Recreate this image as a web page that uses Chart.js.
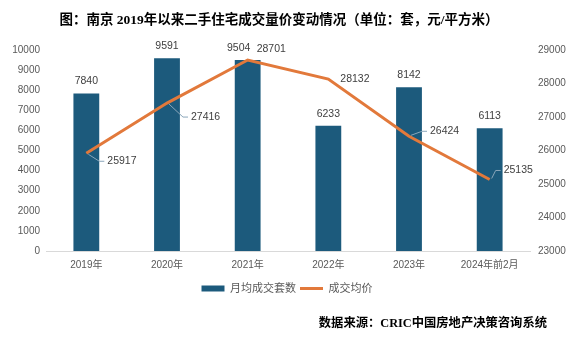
<!DOCTYPE html>
<html>
<head>
<meta charset="utf-8">
<script src="https://cdn.jsdelivr.net/npm/chart.js@4"></script>
<style>
  html, body { margin: 0; padding: 0; background: #fff; }
  #wrap { position: relative; width: 574px; height: 337px; overflow: hidden; }
  #chart { position: absolute; left: 0; top: 0; }
  .title, .source {
    position: absolute;
    font-family: "Liberation Serif", "Noto Sans CJK SC", serif;
    font-weight: 700;
    color: #000;
    white-space: nowrap;
    line-height: 16px;
  }
  .title { left: 0; width: 558px; top: 12px; text-align: center; font-size: 13.5px; }
  .source { right: 27px; top: 315px; font-size: 12.3px; }
</style>
</head>
<body>
<div id="wrap">
  <canvas id="chart" width="574" height="337"></canvas>
  <div class="title">图：南京 2019年以来二手住宅成交量价变动情况（单位：套，元/平方米）</div>
  <div class="source">数据来源：CRIC中国房地产决策咨询系统</div>
</div>
<script>
const years = ['2019年', '2020年', '2021年', '2022年', '2023年', '2024年前2月']
const monthlyDeals = [7840, 9591, 9504, 6233, 8142, 6113]
const avgPrice = [25917, 27416, 28701, 28132, 26424, 25135]
const countTicks = [0, 1000, 2000, 3000, 4000, 5000, 6000, 7000, 8000, 9000, 10000]
const priceTicks = [23000, 24000, 25000, 26000, 27000, 28000, 29000]

const BAR_COLOR = '#1c5a7c'
const LINE_COLOR = '#e2793b'
const TEXT_COLOR = '#595959'
const FONT = '"Liberation Sans", "Noto Sans CJK SC", sans-serif'

// horizontal nudge for bar labels (2021 moves left to clear the price label)
const barLabelDx = [0, 0, -9, 0, 0, 0]

// where each price label sits relative to its point: [dx to left edge, dy to middle, leader]
const priceLabelPos = [
  [21, 8, true],
  [24, 14, true],
  [9, -11, false],
  [12, 0, false],
  [21, -5, true],
  [14, -9, true],
]

const valueLabels = {
  id: 'valueLabels',
  afterDatasetsDraw(chart) {
    const ctx = chart.ctx
    ctx.save()
    ctx.font = '10.5px ' + FONT
    ctx.fillStyle = '#404040'

    const barMeta = chart.getDatasetMeta(0)
    ctx.textAlign = 'center'
    ctx.textBaseline = 'middle'
    barMeta.data.forEach((bar, i) => {
      ctx.fillText(String(monthlyDeals[i]), bar.x + barLabelDx[i], bar.y - 12)
    })

    const lineMeta = chart.getDatasetMeta(1)
    ctx.textAlign = 'left'
    lineMeta.data.forEach((pt, i) => {
      const [dx, dy, leader] = priceLabelPos[i]
      const lx = pt.x + dx
      const ly = pt.y + dy
      if (leader) {
        ctx.strokeStyle = '#8aa6ba'
        ctx.lineWidth = 1
        ctx.beginPath()
        ctx.moveTo(pt.x + 2, pt.y + (dy > 0 ? 1 : -1))
        ctx.lineTo(lx - 8, ly)
        ctx.lineTo(lx - 3, ly)
        ctx.stroke()
      }
      ctx.fillText(String(avgPrice[i]), lx, ly)
    })
    ctx.restore()
  },
}

const plainNumber = (v) => String(v)

const ctx = document.getElementById('chart').getContext('2d')
new Chart(ctx, {
  type: 'bar',
  data: {
    labels: years,
    datasets: [
      {
        type: 'bar',
        label: '月均成交套数',
        data: monthlyDeals,
        backgroundColor: BAR_COLOR,
        borderWidth: 0,
        yAxisID: 'y',
        categoryPercentage: 1,
        barPercentage: 0.32,
        order: 1,
      },
      {
        type: 'line',
        label: '成交均价',
        data: avgPrice,
        borderColor: LINE_COLOR,
        backgroundColor: LINE_COLOR,
        borderWidth: 3,
        pointRadius: 0,
        tension: 0,
        yAxisID: 'y1',
        order: 0,
      },
    ],
  },
  options: {
    responsive: false,
    animation: false,
    layout: { padding: { top: 50, left: 0, right: 0, bottom: 33 } },
    plugins: {
      tooltip: { enabled: false },
      legend: {
        position: 'bottom',
        labels: {
          color: TEXT_COLOR,
          font: { family: FONT, size: 11 },
          usePointStyle: true,
          pointStyleWidth: 23,
          boxHeight: 6,
          padding: 4,
          generateLabels(chart) {
            return chart.data.datasets.map((ds, i) => ({
              text: ds.label,
              datasetIndex: i,
              fillStyle: ds.backgroundColor,
              strokeStyle: ds.type === 'line' ? ds.borderColor : ds.backgroundColor,
              lineWidth: ds.type === 'line' ? 3 : 0,
              pointStyle: ds.type === 'line' ? 'line' : 'rect',
              fontColor: TEXT_COLOR,
              hidden: false,
            }))
          },
        },
      },
    },
    scales: {
      x: {
        grid: { display: false, drawTicks: false },
        border: { display: true, color: '#d9d9d9', width: 1 },
        ticks: { color: TEXT_COLOR, font: { family: FONT, size: 10 }, padding: 8 },
        afterFit: (s) => { s.height = 28 },
      },
      y: {
        position: 'left',
        min: 0,
        max: 10000,
        grid: { display: false, drawTicks: false },
        border: { display: false },
        afterBuildTicks: (s) => { s.ticks = countTicks.map((v) => ({ value: v })) },
        ticks: { color: TEXT_COLOR, font: { family: FONT, size: 10 }, padding: 6, callback: plainNumber },
        afterFit: (s) => { s.width = 46 },
      },
      y1: {
        position: 'right',
        min: 23000,
        max: 29000,
        grid: { display: false, drawTicks: false },
        border: { display: false },
        afterBuildTicks: (s) => { s.ticks = priceTicks.map((v) => ({ value: v })) },
        ticks: { color: TEXT_COLOR, font: { family: FONT, size: 10 }, padding: 8, callback: plainNumber },
        afterFit: (s) => { s.width = 44 },
      },
    },
  },
  plugins: [valueLabels],
})
</script>
</body>
</html>
